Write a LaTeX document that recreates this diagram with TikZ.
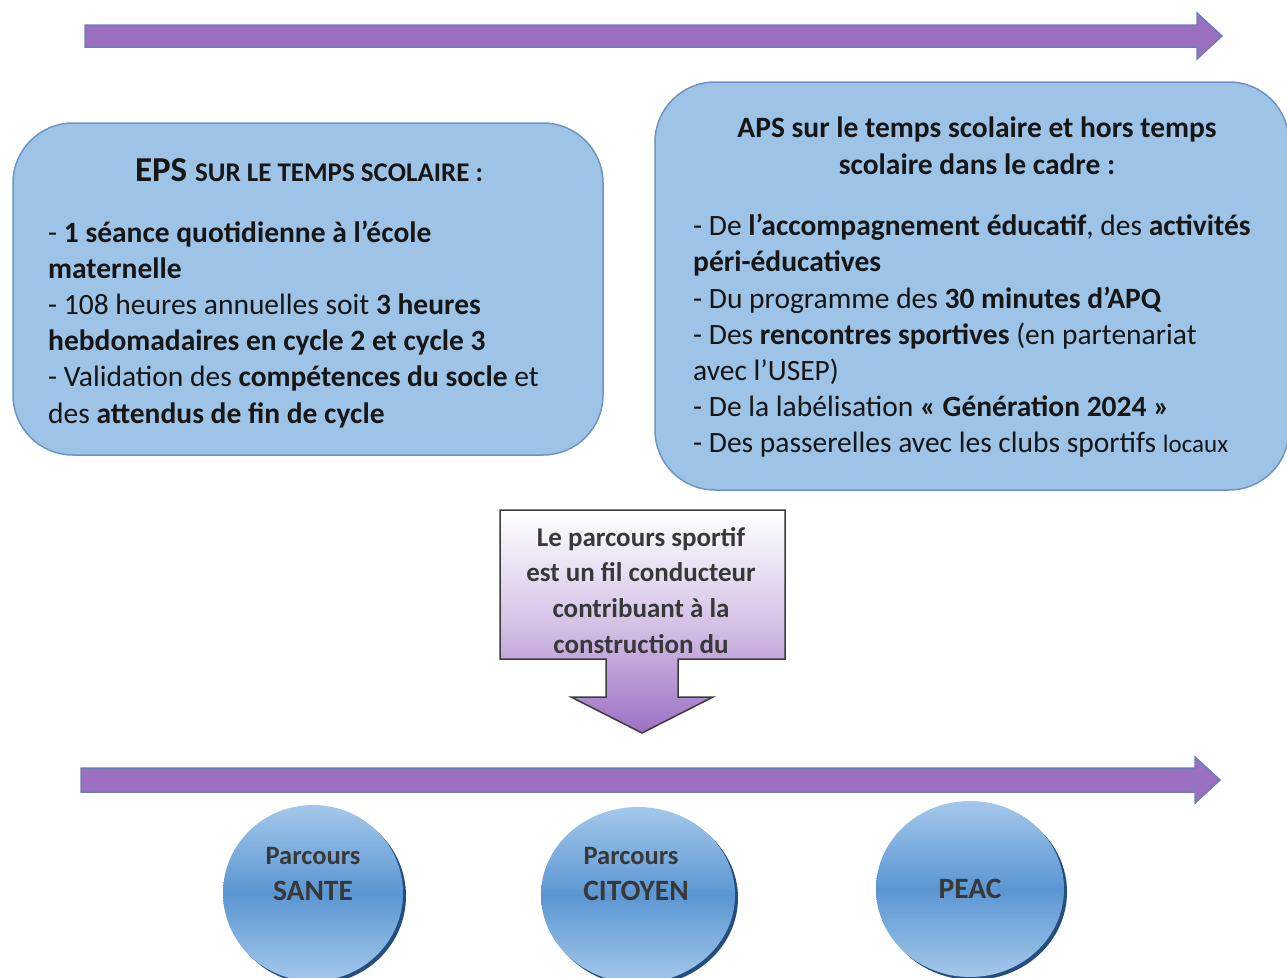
\documentclass[tikz,border=0pt]{standalone}
\usepackage{fontspec}
\setmainfont{Carlito}
\usetikzlibrary{shapes.geometric}
\definecolor{arrowpurple}{HTML}{9B6FBF}
\definecolor{arrowedge}{HTML}{6A7FB8}
\definecolor{boxblue}{HTML}{9DC3E6}
\definecolor{boxedge}{HTML}{6F94C4}
\definecolor{calloutpurple}{HTML}{9C70C4}
\definecolor{calloutedge}{HTML}{3C3C3C}
\definecolor{ellmid}{HTML}{5B96D3}
\definecolor{elllight}{HTML}{A4C8EA}
\definecolor{ellshadow}{HTML}{244E80}
\definecolor{txt}{HTML}{161616}
\definecolor{graytxt}{HTML}{383838}
\tikzset{
  bigarrow/.style={fill=arrowpurple, draw=arrowedge, line width=1.5pt, line join=miter},
  roundbox/.style={rectangle, rounded corners=60pt, fill=boxblue, draw=boxedge, line width=1.5pt, inner sep=0pt},
  bodytext/.style={inner sep=0pt, text=txt, font=\fontsize{29.5}{36.2}\selectfont},
  callouttext/.style={inner sep=0pt, text=graytxt, align=center, font=\bfseries\fontsize{27}{35.7}\selectfont},
  parcours/.style={ellipse, minimum width=180pt, minimum height=176pt, inner sep=0pt,
    top color=elllight, bottom color=elllight, middle color=ellmid,
    preaction={fill=ellshadow, transform canvas={xshift=3pt, yshift=-3pt}}},
  elltext/.style={inner sep=0pt, text=graytxt, align=center},
  smalllbl/.style={font=\bfseries\fontsize{26.5}{35}\selectfont},
  biglbl/.style={font=\bfseries\fontsize{29.5}{35}\selectfont},
}
\begin{document}
\begin{tikzpicture}[x=1pt, y=-1pt]
\useasboundingbox (0,0) rectangle (1287,977);

% top arrow
\path[bigarrow] (85,25) -- (1197,25) -- (1197,13) -- (1222,36) -- (1197,59) -- (1197,47) -- (85,47) -- cycle;

% left box
\node[roundbox, minimum width=590pt, minimum height=332pt] (eps) at (308,289) {};
\node[inner sep=0pt, text=txt, anchor=base] (epstitle) at (309,181)
  {\bfseries\fontsize{35}{36}\selectfont EPS \fontsize{27}{36}\selectfont SUR LE TEMPS SCOLAIRE :};
\node[bodytext, anchor=north west, align=left] (epsbody) at (48,220.5)
  {- \textbf{1 séance quotidienne à l’école}\\
   \textbf{maternelle}\\
   - 108 heures annuelles soit \textbf{3 heures}\\
   \textbf{hebdomadaires en cycle 2 et cycle 3}\\
   - Validation des \textbf{compétences du socle} et\\
   des \textbf{attendus de fin de cycle}};

% right box
\node[roundbox, minimum width=634pt, minimum height=408pt] (aps) at (972,286) {};
\node[bodytext, anchor=north, align=center, font=\bfseries\fontsize{29.5}{37}\selectfont] (apstitle) at (977,117)
  {APS sur le temps scolaire et hors temps\\ scolaire dans le cadre :};
\node[bodytext, anchor=north west, align=left] (apsbody) at (693,214)
  {- De \textbf{l’accompagnement éducatif}, des \textbf{activités}\\
   \textbf{péri-éducatives}\\
   - Du programme des \textbf{30 minutes d’APQ}\\
   - Des \textbf{rencontres sportives} (en partenariat\\
   avec l’USEP)\\
   - De la labélisation \textbf{« Génération 2024 »}\\
   - Des passerelles avec les clubs sportifs {\fontsize{25}{36}\selectfont locaux}};

% callout
\path[draw=calloutedge, line width=1.5pt, top color=white, bottom color=calloutpurple, middle color=white!40!calloutpurple!70]
  (500,510) -- (785,510) -- (785,659) -- (678,659) -- (678,697) -- (713,697) -- (642,733)
  -- (571,697) -- (606,697) -- (606,659) -- (500,659) -- cycle;
\node[callouttext, anchor=north] (callout) at (641,527)
  {Le parcours sportif\\ est un fil conducteur\\ contribuant à la\\ construction du};

% bottom arrow
\path[bigarrow] (81,768) -- (1195,768) -- (1195,757) -- (1220,780) -- (1195,803) -- (1195,792) -- (81,792) -- cycle;

% ellipses
\node[parcours] (sante) at (313,893) {};
\node[parcours, minimum width=194pt] (citoyen) at (638,895) {};
\node[parcours, minimum width=188pt] (peac) at (970,889) {};
\node[elltext, smalllbl, anchor=base] (sante1) at (313,864) {Parcours};
\node[elltext, biglbl, anchor=base] (sante2) at (313,900) {SANTE};
\node[elltext, smalllbl, anchor=base] (cit1) at (631,864) {Parcours};
\node[elltext, biglbl, anchor=base] (cit2) at (636,900) {CITOYEN};
\node[elltext, biglbl, anchor=base] (peac1) at (970,898) {PEAC};
\end{tikzpicture}
\end{document}
